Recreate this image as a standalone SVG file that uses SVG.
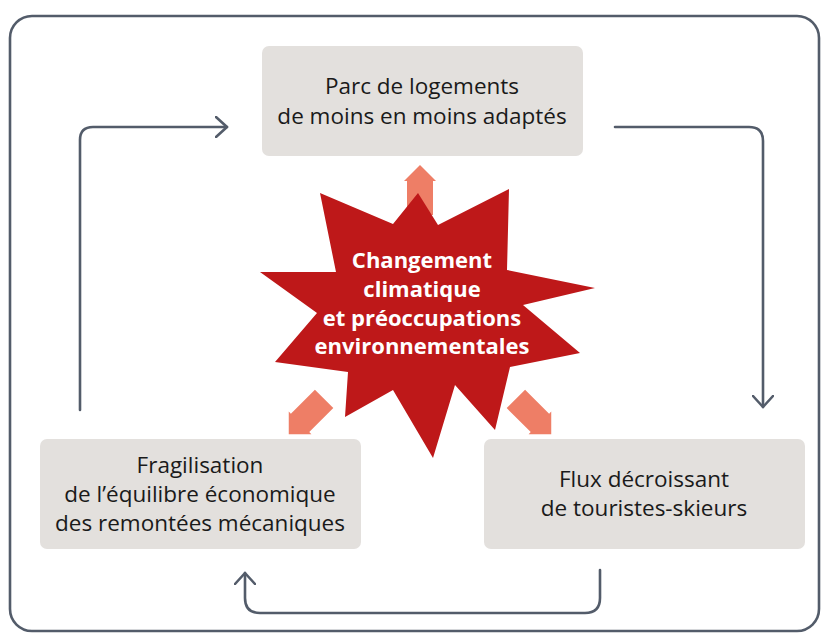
<svg xmlns="http://www.w3.org/2000/svg" width="823" height="637" viewBox="0 0 823 637">
<defs>
<style>
.box{fill:#E3E0DD}
.lbl{font-family:"Open Sans","Liberation Sans",sans-serif;font-size:22.5px;fill:#1A1A1A;text-anchor:middle}
.star-t{font-family:"Open Sans","Liberation Sans",sans-serif;font-size:22px;font-weight:bold;fill:#FFFFFF;text-anchor:middle}
.con{fill:none;stroke:#535C6A;stroke-width:2.6;stroke-linecap:round;stroke-linejoin:round}
.blk{fill:#EE7E66}
</style>
<marker id="chev" viewBox="0 0 14 22" refX="12" refY="11" markerWidth="14" markerHeight="22" markerUnits="userSpaceOnUse" orient="auto">
<path d="M1,1 L12,11 L1,21" fill="none" stroke="#535C6A" stroke-width="2.6" stroke-linecap="round" stroke-linejoin="round"/>
</marker>
<polygon id="barrow" points="0,0 -16,-16 -16,-13 -50,-13 -50,13 -16,13 -16,16"/>
</defs>
<rect width="823" height="637" fill="#FFFFFF"/>
<rect x="10" y="16" width="809" height="615" rx="22" fill="none" stroke="#535C6A" stroke-width="2.6"/>

<g id="connectors">
<path class="con" d="M80,410 V140 Q80,127 93,127 H227" marker-end="url(#chev)"/>
<path class="con" d="M615,127 H749 Q763,127 763,141 V407" marker-end="url(#chev)"/>
<path class="con" d="M600,570 V598 Q600,613 585,613 H260 Q245,613 245,598 V573" marker-end="url(#chev)"/>
</g>

<g id="impact-arrows" class="blk">
<use href="#barrow" transform="translate(420,165) rotate(-90)"/>
<use href="#barrow" transform="translate(293,430) rotate(135) translate(6,0)"/>
<use href="#barrow" transform="translate(547,430) rotate(45) translate(6,0)"/>
</g>

<g id="node-climat">
<polygon fill="#BE1819" points="418,193 438,225 509,189 507,270 595,288 523,305 580,353 510,367 495,430 455,385 433,458 393,390 345,417 348,372 275,362 317,313 260,272 336,272 320,193 393,224"/>
<text class="star-t" x="422" y="268">Changement</text>
<text class="star-t" x="422" y="297">climatique</text>
<text class="star-t" x="422" y="326">et préoccupations</text>
<text class="star-t" x="422" y="354">environnementales</text>
</g>

<g id="node-parc">
<rect class="box" x="262" y="46" width="321" height="110" rx="7"/>
<text class="lbl" x="422" y="94">Parc de logements</text>
<text class="lbl" x="422" y="124">de moins en moins adaptés</text>
</g>

<g id="node-fragilisation">
<rect class="box" x="40" y="439" width="321" height="110" rx="7"/>
<text class="lbl" x="200" y="473">Fragilisation</text>
<text class="lbl" x="200" y="502">de l’équilibre économique</text>
<text class="lbl" x="200" y="531">des remontées mécaniques</text>
</g>

<g id="node-flux">
<rect class="box" x="484" y="439" width="321" height="110" rx="7"/>
<text class="lbl" x="644" y="487">Flux décroissant</text>
<text class="lbl" x="644" y="516">de touristes-skieurs</text>
</g>
</svg>
